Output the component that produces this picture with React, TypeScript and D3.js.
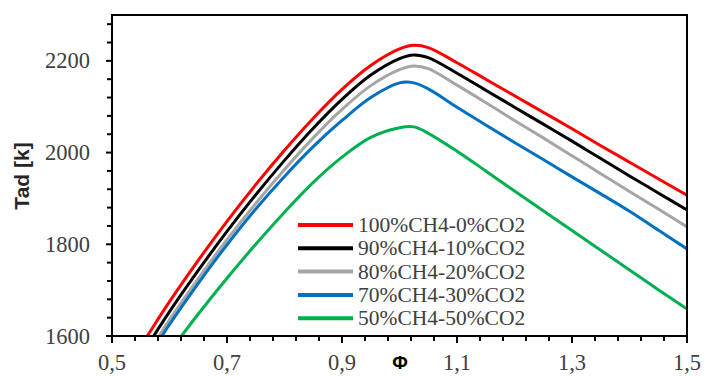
import React from "react";
import * as d3 from "d3";

const phi = [0.5, 0.55, 0.6, 0.65, 0.7, 0.75, 0.8, 0.85, 0.9, 0.95, 1.0, 1.025, 1.05, 1.1, 1.15, 1.2, 1.25, 1.3, 1.35, 1.4, 1.45, 1.5];
const ch4_100 = [1483, 1578, 1675, 1765, 1850, 1930, 2005, 2075, 2138, 2190, 2226, 2234, 2229, 2196, 2160, 2124, 2088, 2052, 2015, 1979, 1943, 1907];
const ch4_90 = [1461, 1556, 1653, 1743, 1828, 1908, 1983, 2053, 2116, 2169, 2205, 2213, 2207, 2173, 2136, 2099, 2062, 2025, 1987, 1949, 1912, 1875];
const ch4_80 = [1443, 1538, 1635, 1725, 1810, 1889, 1963, 2032, 2094, 2146, 2181, 2189, 2183, 2147, 2109, 2070, 2032, 1993, 1954, 1915, 1877, 1838];
const ch4_70 = [1433, 1528, 1625, 1715, 1799, 1877, 1948, 2013, 2070, 2120, 2152, 2152, 2139, 2099, 2060, 2022, 1985, 1947, 1910, 1872, 1831, 1790];
const ch4_50 = [1410, 1490, 1566, 1648, 1726, 1800, 1870, 1935, 1990, 2033, 2054, 2056, 2042, 2003, 1960, 1916, 1873, 1830, 1787, 1744, 1701, 1659];

const seriesNames = ["100%CH4-0%CO2", "90%CH4-10%CO2", "80%CH4-20%CO2", "70%CH4-30%CO2", "50%CH4-50%CO2"];
const seriesValues = [ch4_100, ch4_90, ch4_80, ch4_70, ch4_50];
const seriesColors = ["#FF0000", "#000000", "#A5A5A5", "#0070C0", "#00B050"];

const xTickLabels = ["0,5", "0,7", "0,9", "1,1", "1,3", "1,5"];
const yTickLabels = ["1600", "1800", "2000", "2200"];

export default function App() {
  const W = 705, H = 376;
  const L = 112, R = 687, T = 15, B = 336;
  const x = d3.scaleLinear().domain([0.5, 1.5]).range([L, R]);
  const y = d3.scaleLinear().domain([1600, 2300]).range([B, T]);

  const line = d3
    .line<number>()
    .x((_, i) => x(phi[i]))
    .y((d) => y(d))
    .curve(d3.curveCatmullRom.alpha(0.5));

  const xMinor = d3.range(0, 26).map((i) => 0.5 + i * 0.04);
  const yMinor = d3.range(0, 18).map((i) => 1600 + i * 40);

  const legendX1 = 298, legendX2 = 353, legendY0 = 225, legendStep = 23.3;

  return (
    <svg width={W} height={H} style={{ position: "absolute", left: 0, top: 0, background: "#fff" }}>
      <defs>
        <clipPath id="plotClip">
          <rect x={L} y={T} width={R - L} height={B - T} />
        </clipPath>
      </defs>
      <rect x={0} y={0} width={W} height={H} fill="#fff" />

      <g clipPath="url(#plotClip)">
        {seriesValues.map((vals, k) => (
          <path key={k} d={line(vals) || ""} fill="none" stroke={seriesColors[k]} strokeWidth={3} strokeLinejoin="round" />
        ))}
      </g>

      {/* frame */}
      <rect x={L} y={T} width={R - L} height={B - T} fill="none" stroke="#000" strokeWidth={2} />

      {/* x ticks */}
      {xMinor.map((v, i) => (
        <line key={"xt" + i} x1={x(v)} x2={x(v)} y1={B} y2={B + (i % 5 === 0 ? 7 : 5)} stroke="#000" strokeWidth={2} />
      ))}
      {xTickLabels.map((lab, i) => (
        <text key={"xl" + i} x={x(0.5 + i * 0.2)} y={370} textAnchor="middle" fontFamily="'Liberation Serif', serif" fontSize={22.5} fill="#404040">
          {lab}
        </text>
      ))}

      {/* y ticks */}
      {yMinor.map((v, i) => (
        <line key={"yt" + i} x1={L - (i % 5 === 0 ? 6 : 5)} x2={L} y1={y(v)} y2={y(v)} stroke="#000" strokeWidth={2} />
      ))}
      {yTickLabels.map((lab, i) => (
        <text key={"yl" + i} x={90} y={y(1600 + i * 200) + 7.5} textAnchor="end" fontFamily="'Liberation Serif', serif" fontSize={22.5} fill="#404040">
          {lab}
        </text>
      ))}

      {/* axis titles */}
      <text x={400} y={369} textAnchor="middle" fontFamily="'Liberation Sans', Arial, sans-serif" fontWeight="bold" fontSize={19} fill="#000">
        Φ
      </text>
      <text
        transform={`translate(29,176) rotate(-90)`}
        textAnchor="middle"
        fontFamily="'Liberation Sans', Arial, sans-serif"
        fontWeight="bold"
        fontSize={21}
        fill="#262626"
      >
        Tad [k]
      </text>

      {/* legend */}
      {seriesNames.map((name, k) => {
        const ly = legendY0 + k * legendStep;
        return (
          <g key={"lg" + k}>
            <line x1={legendX1} x2={legendX2} y1={ly} y2={ly} stroke={seriesColors[k]} strokeWidth={4} />
            <text x={358} y={ly + 7} fontFamily="'Liberation Serif', serif" fontSize={21.5} fill="#404040">
              {name}
            </text>
          </g>
        );
      })}
    </svg>
  );
}
